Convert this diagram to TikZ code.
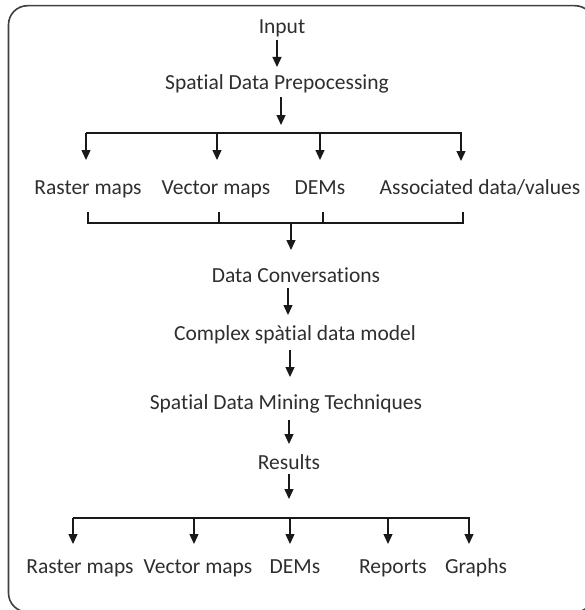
\documentclass[tikz,border=0pt]{standalone}
\usepackage{fontspec}
\setmainfont{Carlito}[Ligatures={NoCommon}]
\usetikzlibrary{arrows.meta}
\begin{document}
\begin{tikzpicture}[x=1pt,y=-1pt,
  lbl/.style={inner sep=0pt,font=\fontsize{21.5}{23}\selectfont,text=black!82,text height=13pt,text depth=4pt,yshift=-1.5pt},
  arr/.style={draw=black!90,line width=1.3pt,-{Triangle[length=10pt,width=9pt]}},
  ln/.style={draw=black!90,line width=1.3pt},
  frame/.style={draw=black!75,line width=1.6pt,rounded corners=19pt}]
\useasboundingbox (0,0) rectangle (585,610);
\begin{scope}
\clip (0,0) rectangle (585,610);
\draw[frame] (8.5,5.7) rectangle (594,612);
\end{scope}
% text nodes
\node[lbl] (input) at (282,28) {Input};
\node[lbl] (spd) at (277,83) {Spatial Data Prepocessing};
\node[lbl] (r1) at (88,188) {Raster maps};
\node[lbl] (v1) at (216,188) {Vector maps};
\node[lbl] (d1) at (320,188) {DEMs};
\node[lbl] (a1) at (480,188) {Associated data/values};
\node[lbl] (dc) at (296,276) {Data Conversations};
\node[lbl] (csdm) at (295,334) {Complex spàtial data model};
\node[lbl] (sdmt) at (286,403) {Spatial Data Mining Techniques};
\node[lbl] (res) at (289,463) {Results};
\node[lbl] (r2) at (80,567) {Raster maps};
\node[lbl] (v2) at (198,567) {Vector maps};
\node[lbl] (d2) at (295,567) {DEMs};
\node[lbl] (rep) at (393,567) {Reports};
\node[lbl] (gr) at (476,567) {Graphs};
% coordinates
\coordinate (i1) at (277,40);  \coordinate (i2) at (277,67);
\coordinate (p1) at (281,97);  \coordinate (p2) at (281,125);
\coordinate (b1l) at (86,133); \coordinate (b1r) at (462,133);
\coordinate (t1) at (86,160); \coordinate (t2) at (217,160);
\coordinate (t3) at (320,160); \coordinate (t4) at (461,161);
\coordinate (k1) at (88,212); \coordinate (k2) at (219,212);
\coordinate (k3) at (323,212); \coordinate (k4) at (463,212);
\coordinate (m1) at (291,223); \coordinate (m2) at (291,250);
\coordinate (c1) at (288,288); \coordinate (c2) at (288,315);
\coordinate (e1) at (290,350); \coordinate (e2) at (290,377);
\coordinate (s1) at (289,420); \coordinate (s2) at (289,444);
\coordinate (q1) at (289,474); \coordinate (q2) at (289,499);
\coordinate (b2l) at (73,518); \coordinate (b2r) at (470,518);
\coordinate (u1) at (73,544); \coordinate (u2) at (194,544);
\coordinate (u3) at (290,544); \coordinate (u4) at (388,544);
\coordinate (u5) at (469,544);
% connectors
\draw[arr] (i1) -- (i2);
\draw[arr] (p1) -- (p2);
\draw[ln] (b1l) -- (b1r);
\draw[arr] (b1l) -- (t1);
\draw[arr] (b1l -| t2) -- (t2);
\draw[arr] (b1l -| t3) -- (t3);
\draw[arr] (b1l -| t4) -- (t4);
\draw[ln] (k1) |- (m1) -| (k4);
\draw[ln] (k2) -- (k2 |- m1);
\draw[ln] (k3) -- (k3 |- m1);
\draw[arr] (m1) -- (m2);
\draw[arr] (c1) -- (c2);
\draw[arr] (e1) -- (e2);
\draw[arr] (s1) -- (s2);
\draw[arr] (q1) -- (q2);
\draw[ln] (b2l) -- (b2r);
\draw[arr] (b2l) -- (u1);
\draw[arr] (b2l -| u2) -- (u2);
\draw[arr] (b2l -| u3) -- (u3);
\draw[arr] (b2l -| u4) -- (u4);
\draw[arr] (b2l -| u5) -- (u5);
\end{tikzpicture}
\end{document}
